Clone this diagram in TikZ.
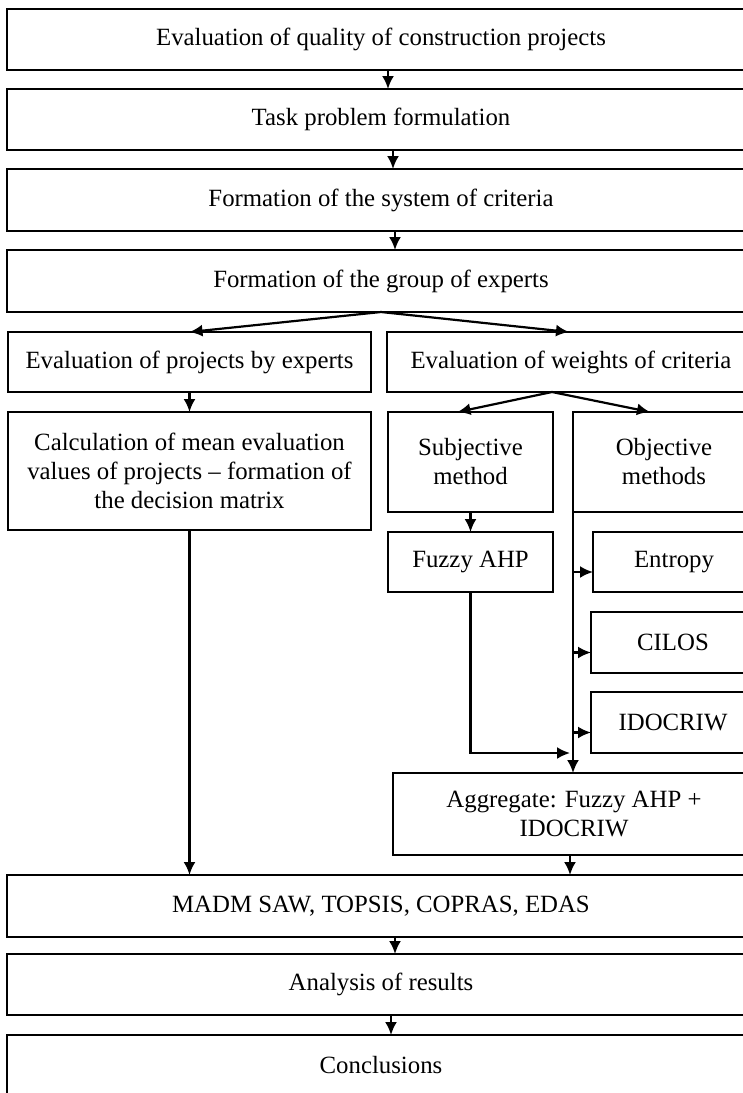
\documentclass[tikz,border=0pt]{standalone}
\usepackage{fontspec}
\setmainfont{Liberation Serif}
\usepackage{tikz}
\usetikzlibrary{arrows.meta}
\usetikzlibrary{positioning}
\tikzset{>={Latex[length=6.5pt,width=6pt]}}

\begin{document}
\begin{tikzpicture}[x=0.5pt,y=-0.5pt,line width=1.1pt,
	blk/.style 2 args={draw, rectangle, inner sep=0pt, outer sep=0pt, anchor=north west, align=center, minimum width=#1*0.5pt, minimum height=#2*0.5pt, font=\fontsize{12.4}{14.5}\selectfont}]
		\clip (0,0) rectangle (743,1093);
		\node[blk={748}{61}] (top) at (7,9) {Evaluation of quality of construction projects};
		\node[blk={748}{61}] (task) at (7,89) {Task problem formulation};
		\node[blk={748}{62}] (system) at (7,169) {Formation of the system of criteria};
		\node[blk={748}{62}] (group) at (7,250) {Formation of the group of experts};
		\node[blk={363}{60}] (byexp) at (8,332) {Evaluation of projects by experts};
		\node[blk={368}{60}] (weights) at (387,332) {Evaluation of weights of criteria};
		\node[blk={363}{118}] (mean) at (8,412) {Calculation of mean evaluation\\values of projects – formation of\\the decision matrix};
		\node[blk={165}{100}] (subj) at (388,412) {Subjective\\method};
		\node[blk={182}{100}] (obj) at (573,412) {Objective\\methods};
		\node[blk={165}{60}] (fuzzy) at (388,532) {Fuzzy AHP};
		\node[blk={162}{60}] (entropy) at (593,532) {Entropy};
		\node[blk={164}{61}] (cilos) at (591,612) {CILOS};
		\node[blk={164}{61}] (idocriw) at (591,692) {IDOCRIW};
		\node[blk={362}{82}] (aggr) at (393,773) {Aggregate: Fuzzy AHP +\\IDOCRIW};
		\node[blk={748}{62}] (madm) at (7,875) {MADM SAW, TOPSIS, COPRAS, EDAS};
		\node[blk={748}{61}] (results) at (7,954) {Analysis of results};
		\node[blk={748}{60}] (concl) at (7,1035) {Conclusions};
		\draw[->] ([xshift=3.5pt]top.south) -- ([xshift=3.5pt]task.north);
		\draw[->] ([xshift=6pt]task.south) -- ([xshift=6pt]system.north);
		\draw[->] ([xshift=7pt]system.south) -- ([xshift=7pt]group.north);
		\draw[->] (group.south) -- (byexp.north);
		\draw[->] (group.south) -- ([xshift=-1pt]weights.north);
		\draw[->] (byexp.south) -- (mean.north);
		\draw[->] ([xshift=-9.5pt]weights.south) -- ([xshift=-6.5pt]subj.north);
		\draw[->] ([xshift=-9.5pt]weights.south) -- ([xshift=-7pt]obj.north);
		\draw[->] (subj.south) -- (fuzzy.north);
		\draw[->] (fuzzy.south) |- ([xshift=-2pt,yshift=10pt]aggr.north);
		\draw[->] (obj.south west) -- (obj.south west |- aggr.north);
		\foreach \b in {entropy,cilos,idocriw} {
			\coordinate (t\b) at ([yshift=-5pt]\b.west);
			\draw[->] (obj.south west |- t\b) -- (t\b);
		}
		\draw[->] (mean.south) -- (mean.south |- madm.north);
		\draw[->] ([xshift=-2pt]aggr.south) -- ([xshift=-2pt]aggr.south |- madm.north);
		\draw[->] ([xshift=7pt]madm.south) -- ([xshift=7pt]results.north);
		\draw[->] ([xshift=5pt]results.south) -- ([xshift=5pt]concl.north);
	\end{tikzpicture}
\end{document}
